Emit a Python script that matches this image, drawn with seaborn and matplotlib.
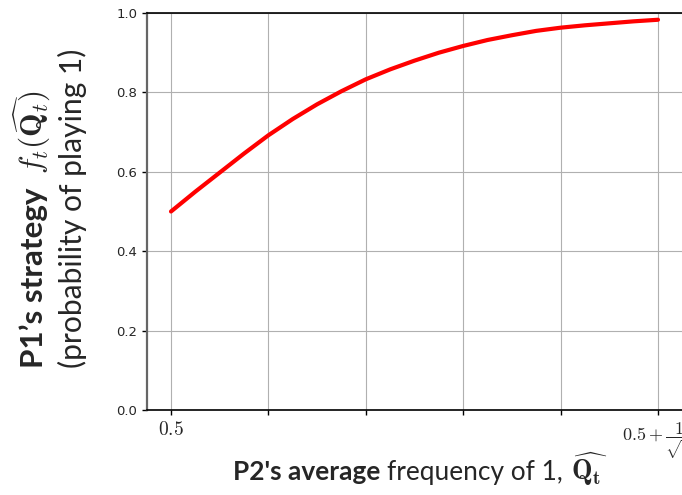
import matplotlib
matplotlib.use("Agg")
import matplotlib.pyplot as plt
import seaborn as sns
import pandas as pd

# Opponent's empirical frequency, rescaled so 0 -> 0.5 and 1 -> 0.5 + 1/sqrt(t)
q_pos = [0.00, 0.05, 0.10, 0.15, 0.20, 0.25, 0.30, 0.35, 0.40, 0.45, 0.50,
         0.55, 0.60, 0.65, 0.70, 0.75, 0.80, 0.85, 0.90, 0.95, 1.00]
# Probability that player 1 plays action 1
p_play1 = [0.500, 0.550, 0.598, 0.646, 0.692, 0.733, 0.770, 0.803, 0.833, 0.858, 0.880,
           0.900, 0.917, 0.932, 0.944, 0.955, 0.963, 0.969, 0.974, 0.979, 0.983]

x_ticks = [0.0, 0.2, 0.4, 0.6, 0.8, 1.0]
x_tick_labels = [r"$0.5$", "", "", "", "", r"$0.5+\dfrac{1}{\sqrt{t}}$"]
y_ticks = [0.0, 0.2, 0.4, 0.6, 0.8, 1.0]

sns.set_style("whitegrid")
plt.rcParams["mathtext.fontset"] = "cm"
plt.rcParams["font.family"] = ["DejaVu Sans"]

W, H = 682, 495
fig = plt.figure(figsize=(W / 100, H / 100), dpi=100)
ax = fig.add_axes([147 / W, (H - 410) / H, (684 - 147) / W, (410 - 13) / H])

df = pd.DataFrame({"q": q_pos, "p": p_play1})
sns.lineplot(data=df, x="q", y="p", color="red", linewidth=3, ax=ax)

ax.set_xlim(-24 / 487, (684 - 171) / 487)
ax.set_ylim(0, 1)
ax.set_xticks(x_ticks)
ax.set_xticklabels(x_tick_labels)
ax.set_yticks(y_ticks)
ax.set_yticklabels([f"{v:.1f}" for v in y_ticks], fontsize=9.5)
xt = ax.get_xticklabels()
xt[0].set_fontsize(14)
xt[-1].set_fontsize(13)
ax.set_xlabel("")
ax.set_ylabel("")
ax.grid(True, color="#b0b0b0", linewidth=0.8)
ax.tick_params(axis="both", which="both", direction="out", length=3.5, width=1,
               color="black", left=True, bottom=True, pad=3.5)
for side, sp in ax.spines.items():
    sp.set_color("black")
    sp.set_linewidth(1.2)
ax.spines["left"].set_color("#666666")
ax.spines["left"].set_linewidth(1.6)

renderer = fig.canvas.get_renderer()


def run(segments, x0, y0, length, rotation=0):
    """Write segments end to end on one baseline starting at pixel (x0, y0),
    scaled together so the whole run spans `length` pixels."""
    texts = []
    for text, rel, gap, kw in segments:
        t = fig.text(0, 0, text, rotation=rotation, rotation_mode="anchor",
                     ha="left", va="baseline", fontsize=12 * rel, **kw)
        texts.append((t, rel, gap))

    def layout(size):
        pos = 0.0
        for t, rel, gap in texts:
            pos += gap * size * 100 / 72
            t.set_fontsize(size * rel)
            if rotation:
                t.set_position((x0 / W, 1 - (y0 - pos) / H))
            else:
                t.set_position(((x0 + pos) / W, 1 - y0 / H))
            bb = t.get_window_extent(renderer)
            pos += bb.height if rotation else bb.width
        return pos

    size = 12.0
    for _ in range(3):
        span = layout(size)
        size *= length / span
    layout(size)


bold_sans = dict(family=["Lato", "DejaVu Sans"], fontweight="bold")
reg_sans = dict(family=["Lato", "DejaVu Sans"])
math = dict()

# Vertical axis title, two lines
run([("P1\u2019s strategy", 1.0, 0.0, bold_sans),
     (r"$f_t(\widehat{\mathbf{Q}_t})$", 1.0, 0.45, math)],
    43, 368, 278, rotation=90)
run([("(probability of playing 1)", 1.0, 0.0, reg_sans)], 82, 368, 320, rotation=90)

# Horizontal axis title
run([("P2's average", 1.0, 0.0, bold_sans),
     ("frequency of 1,", 1.0, 0.27, reg_sans),
     (r"$\widehat{\mathbf{Q}_\mathbf{t}}$", 1.05, 0.3, math)],
    233, 480, 374)

fig.savefig("out.png", dpi=100)
